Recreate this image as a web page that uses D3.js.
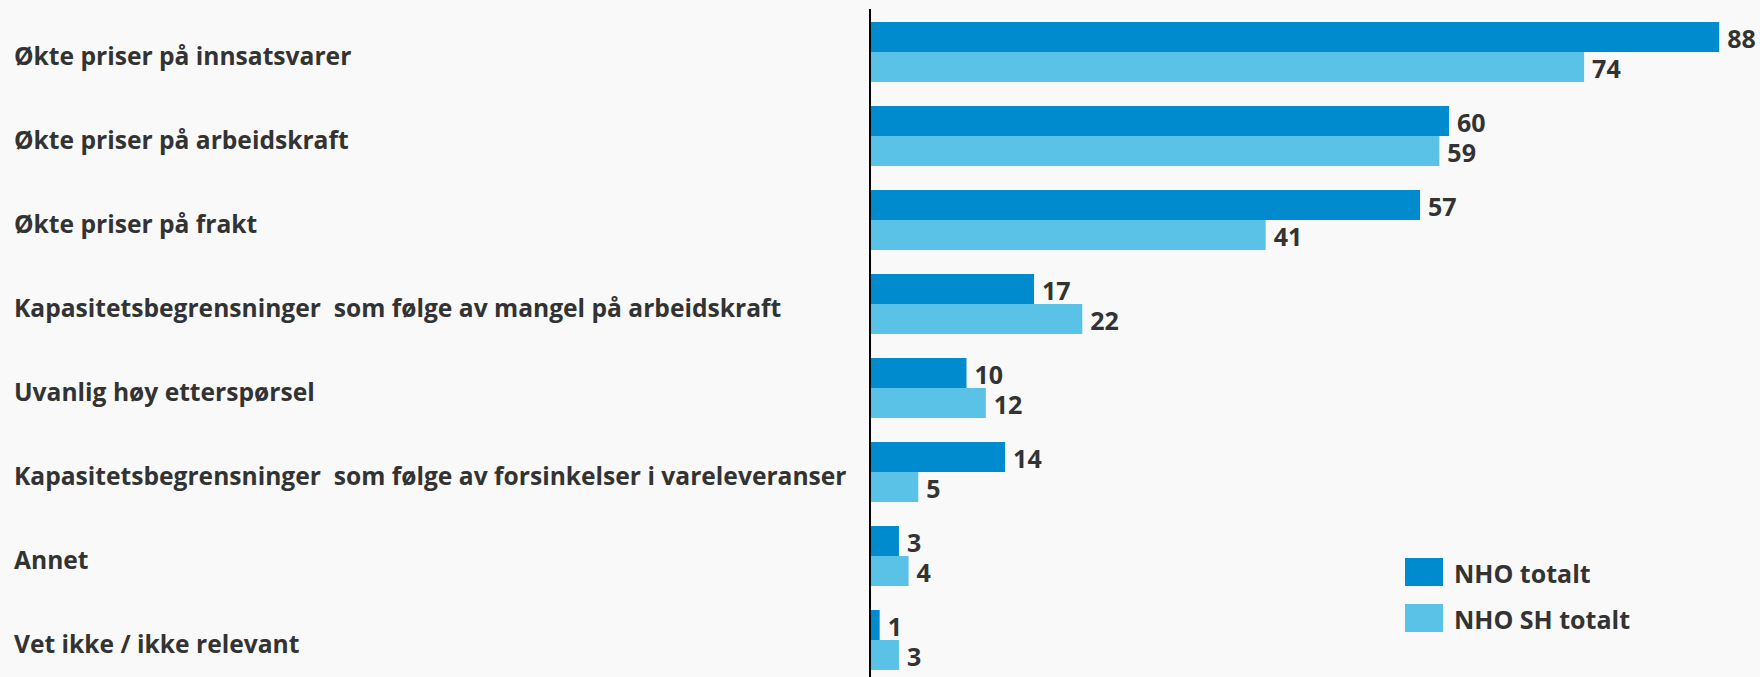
<!DOCTYPE html>
<html>
<head>
<meta charset="utf-8">
<script src="https://cdn.jsdelivr.net/npm/d3@7"></script>
<style>
  html, body { margin: 0; padding: 0; background: #f9f9f9; }
  svg text { font-family: "Open Sans", "Noto Sans", sans-serif; font-weight: 700; fill: #333333; }
</style>
</head>
<body>
<div id="chart"></div>
<script>
var categories = [
  "Økte priser på innsatsvarer",
  "Økte priser på arbeidskraft",
  "Økte priser på frakt",
  "Kapasitetsbegrensninger  som følge av mangel på arbeidskraft",
  "Uvanlig høy etterspørsel",
  "Kapasitetsbegrensninger  som følge av forsinkelser i vareleveranser",
  "Annet",
  "Vet ikke / ikke relevant"
];
var seriesNames = ["NHO totalt", "NHO SH totalt"];
var nhoTotalt = [88, 60, 57, 17, 10, 14, 3, 1];
var nhoShTotalt = [74, 59, 41, 22, 12, 5, 4, 3];
var seriesColors = ["#008bce", "#5bc2e7"];

var width = 1760, height = 677;

var svg = d3.select("#chart").append("svg")
  .attr("width", width)
  .attr("height", height);

svg.append("rect")
  .attr("width", width).attr("height", height)
  .attr("fill", "#f9f9f9");

var x = d3.scaleLinear().domain([0, 100]).range([870, 1835]);

var y = d3.scaleBand()
  .domain(categories)
  .range([10, 682])
  .paddingInner(24 / 84)
  .paddingOuter(12 / 84);

var ySub = d3.scaleBand()
  .domain(seriesNames)
  .range([0, y.bandwidth()]);

var color = d3.scaleOrdinal().domain(seriesNames).range(seriesColors);

var rows = categories.map(function(c, i) {
  return { cat: c, values: [
    { key: seriesNames[0], value: nhoTotalt[i] },
    { key: seriesNames[1], value: nhoShTotalt[i] }
  ]};
});

// category labels
svg.append("g").selectAll("text")
  .data(categories)
  .enter().append("text")
  .attr("x", 14)
  .attr("y", function(d) { return y(d) + y.bandwidth() / 2 + 6; })
  .attr("dominant-baseline", "middle")
  .style("font-size", "24.6px")
  .style("white-space", "pre")
  .attr("xml:space", "preserve")
  .text(function(d) { return d; });

var group = svg.append("g").selectAll("g")
  .data(rows)
  .enter().append("g")
  .attr("transform", function(d) { return "translate(0," + y(d.cat) + ")"; });

group.selectAll("rect")
  .data(function(d) { return d.values; })
  .enter().append("rect")
  .attr("x", x(0))
  .attr("y", function(d) { return ySub(d.key); })
  .attr("width", function(d) { return x(d.value) - x(0); })
  .attr("height", ySub.bandwidth())
  .attr("fill", function(d) { return color(d.key); });

group.selectAll("text")
  .data(function(d) { return d.values; })
  .enter().append("text")
  .attr("x", function(d) { return x(d.value) + 8; })
  .attr("y", function(d) { return ySub(d.key) + ySub.bandwidth() / 2 + 4; })
  .attr("dominant-baseline", "middle")
  .style("font-size", "25px")
  .text(function(d) { return d.value; });

// vertical axis line
svg.append("line")
  .attr("x1", x(0)).attr("x2", x(0))
  .attr("y1", 9).attr("y2", height)
  .attr("stroke", "#000")
  .attr("stroke-width", 2);

// legend
var legend = svg.append("g").selectAll("g")
  .data(seriesNames)
  .enter().append("g")
  .attr("transform", function(d, i) { return "translate(1405," + (558 + i * 46) + ")"; });

legend.append("rect")
  .attr("width", 38).attr("height", 28)
  .attr("fill", function(d) { return color(d); });

legend.append("text")
  .attr("x", 49)
  .attr("y", 18)
  .attr("dominant-baseline", "middle")
  .style("font-size", "25px")
  .text(function(d) { return d; });
</script>
</body>
</html>
